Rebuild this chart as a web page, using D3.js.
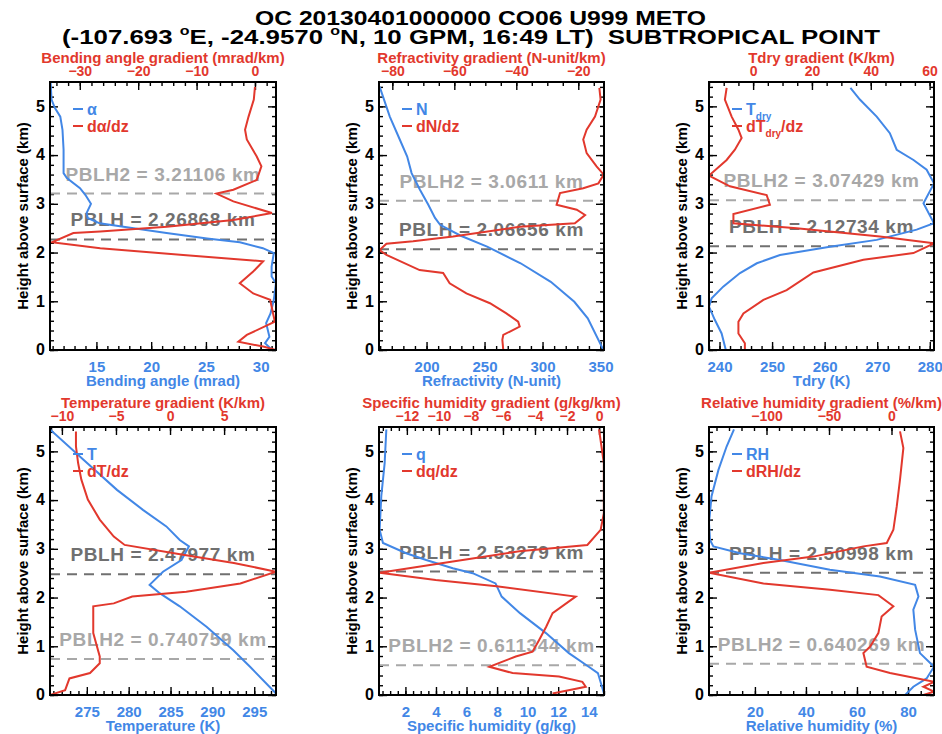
<!DOCTYPE html>
<html>
<head>
<meta charset="utf-8">
<script src="https://cdn.jsdelivr.net/npm/d3@7"></script>
<style>
body { margin: 0; background: #fff; }
text { font-family: "Liberation Sans", Arial, Helvetica, sans-serif; font-weight: bold; }
</style>
</head>
<body>
<div id="chart"></div>
<script>
// every profile is a list of [height above surface (km), value]
var bendAngle = [[5.48,10.82],[5.14,10.9],[4.97,11.2],[4.79,11.7],[4.52,11.9],[4.11,12.0],[3.63,12.0],[3.53,12.3],[3.32,13.5],[3.18,14.0],[3.0,14.5],[2.81,14.1],[2.71,14.2],[2.6,15.3],[2.5,18.4],[2.4,21.4],[2.29,25.1],[2.21,28.1],[2.09,30.2],[1.99,31.2],[1.71,31.0],[1.51,31.0],[1.37,31.4],[1.03,31.2],[0.75,30.9],[0.55,30.5],[0.27,30.8],[0.14,30.4],[0.01,31.0]];
var bendGrad = [[5.4,0.0],[5.14,-0.2],[4.79,-1.1],[4.52,-1.7],[4.32,-1.4],[3.97,0.3],[3.77,1.1],[3.49,0.3],[3.29,-3.7],[3.21,-6.6],[3.05,-3.7],[2.81,2.9],[2.67,-3.7],[2.53,-15.1],[2.43,-26.5],[2.4,-31.1],[2.21,-34.8],[2.09,-26.5],[1.95,-12.3],[1.82,1.4],[1.61,-0.3],[1.37,-2.6],[1.16,-0.3],[1.03,2.6],[0.75,3.1],[0.58,3.4],[0.31,-1.4],[0.17,-2.85],[0.07,1.4],[0.0,3.6]];

var refr = [[5.4,159.6],[4.79,168.3],[4.32,176.9],[3.97,183.3],[3.63,187.1],[3.29,194.3],[2.98,201.5],[2.71,207.3],[2.57,211.7],[2.35,229.0],[2.12,252.2],[1.78,281.1],[1.4,307.1],[0.99,327.4],[0.65,339.0],[0.0,352.5]];
var refrGrad = [[5.38,-13.2],[5.14,-12.8],[4.79,-14.6],[4.52,-17.3],[4.32,-18.4],[4.04,-17.3],[3.77,-14.1],[3.6,-11.8],[3.42,-13.5],[3.32,-18.4],[3.22,-25.9],[2.98,-27.0],[2.88,-20.5],[2.77,-17.8],[2.6,-21.1],[2.53,-38.9],[2.33,-60.4],[2.23,-73.3],[2.18,-81.9],[2.05,-84.1],[1.95,-81.9],[1.64,-71.2],[1.58,-63.6],[1.37,-61.5],[1.16,-56.1],[0.96,-48.5],[0.75,-43.2],[0.58,-39.4],[0.48,-38.9],[0.31,-44.2],[0.21,-44.5],[0.0,-44.2]];

var tdry = [[5.38,264.9],[5.14,266.7],[4.79,269.9],[4.45,272.4],[4.11,273.7],[3.9,276.9],[3.7,279.4],[3.42,280.8],[3.01,278.8],[2.6,280.8],[2.47,277.5],[2.26,269.9],[2.12,261.0],[1.95,251.5],[1.78,247.1],[1.58,243.9],[1.3,240.7],[1.06,238.5],[0.89,238.0],[0.62,239.1],[0.34,240.4],[0.0,241.2]];
var tdryGrad = [[5.38,-9.0],[5.14,-9.6],[4.79,-7.3],[4.52,-5.0],[4.35,-3.9],[4.11,-6.2],[3.9,-9.0],[3.58,-15.0],[3.36,-7.9],[3.18,4.6],[2.98,5.7],[2.79,-6.7],[2.6,-6.7],[2.5,14.8],[2.33,43.1],[2.19,61.5],[1.99,54.5],[1.85,37.5],[1.59,20.5],[1.23,11.4],[1.03,3.5],[0.75,-3.3],[0.58,-5.0],[0.34,-5.0],[0.14,-2.8],[0.0,-2.8]];

var temp = [[5.45,270.6],[4.83,274.6],[4.21,278.6],[3.8,281.7],[3.46,284.5],[3.18,286.1],[3.05,287.2],[2.77,286.3],[2.53,284.1],[2.26,282.5],[2.09,283.7],[1.82,286.1],[1.4,289.3],[0.92,292.5],[0.58,294.5],[0.03,297.6]];
var tempGrad = [[5.41,-8.7],[5.1,-8.7],[4.76,-8.5],[4.42,-8.2],[4.01,-7.6],[3.6,-6.5],[3.25,-5.2],[3.08,-4.2],[2.88,1.2],[2.71,5.9],[2.53,9.8],[2.29,6.5],[2.12,1.5],[2.02,-3.5],[1.88,-5.2],[1.82,-7.1],[1.27,-7.1],[0.79,-6.5],[0.65,-6.5],[0.45,-7.4],[0.34,-9.3],[0.1,-9.7],[0.0,-11.1]];

var shum = [[5.45,0.75],[4.76,0.64],[4.08,0.42],[3.39,0.31],[3.12,0.53],[2.91,2.05],[2.77,3.36],[2.6,5.1],[2.5,6.4],[2.29,7.9],[2.02,8.3],[1.68,9.5],[1.27,11.2],[0.86,12.7],[0.58,14.0],[0.45,14.6],[0.03,15.0]];
var shumGrad = [[5.45,0.0],[4.76,0.3],[3.73,0.3],[3.39,0.1],[3.08,-0.73],[2.95,-4.98],[2.74,-9.13],[2.51,-13.7],[2.36,-10.2],[2.23,-6.4],[2.02,-1.46],[1.68,-2.9],[1.4,-3.3],[1.13,-3.74],[0.89,-4.15],[0.79,-5.2],[0.58,-6.85],[0.45,-5.4],[0.38,-2.5],[0.27,-1.04],[0.17,-0.83],[0.03,-2.9]];

var rhum = [[5.45,11.8],[5.1,8.9],[4.62,5.7],[4.08,3.0],[3.53,2.0],[3.18,2.4],[3.05,3.7],[2.91,14.2],[2.77,29.8],[2.57,49.4],[2.43,69.0],[2.26,82.8],[2.02,84.1],[1.75,82.1],[1.34,82.8],[0.86,84.7],[0.58,90.2],[0.34,87.3],[0.17,82.1],[0.0,78.9]];
var rhumGrad = [[5.41,6.8],[5.07,9.5],[4.42,6.8],[3.87,4.2],[3.39,1.5],[3.12,-3.8],[3.05,-22.5],[2.84,-62.5],[2.71,-102.5],[2.51,-146],[2.29,-102.5],[2.16,-49.2],[2.05,-10.5],[1.82,1.5],[1.61,-7.9],[1.27,-10.5],[0.99,-17.2],[0.86,-22.5],[0.58,-19.9],[0.45,-1.2],[0.27,34],[0.17,25.5],[0.07,34],[0.0,25.5]];

var pblh  = [2.26868, 2.06656, 2.12734, 2.47977, 2.53279, 2.50998];
var pblh2 = [3.21106, 3.0611, 3.07429, 0.740759, 0.611344, 0.640269];

var valueTitles = ["Bending angle (mrad)", "Refractivity (N-unit)", "Tdry (K)", "Temperature (K)", "Specific humidity (g/kg)", "Relative humidity (%)"];
var gradTitles = ["Bending angle gradient (mrad/km)", "Refractivity gradient (N-unit/km)", "Tdry gradient (K/km)", "Temperature gradient (K/km)", "Specific humidity gradient (g/kg/km)", "Relative humidity gradient (%/km)"];
var valueLegend = ["α", "N", "T_{dry}", "T", "q", "RH"];
var gradLegend = ["dα/dz", "dN/dz", "dT_{dry}/dz", "dT/dz", "dq/dz", "dRH/dz"];

var valueDomains = [[10.76, 31.4], [159, 353], [238, 280.8], [270.6, 297.6], [0.27, 15.0], [2, 90.2]];
var gradDomains = [[-35.1, 3.6], [-84.3, -11.7], [-15, 61.5], [-11.1, 9.8], [-13.74, 0.31], [-146, 34]];
var valueTicks = [[15, 20, 25, 30], [200, 250, 300, 350], [240, 250, 260, 270, 280], [275, 280, 285, 290, 295], [2, 4, 6, 8, 10, 12, 14], [20, 40, 60, 80]];
var valueMinor = [1, 10, 2, 1, 0.5, 5];
var gradTicks = [[-30, -20, -10, 0], [-80, -60, -40, -20], [0, 20, 40, 60], [-10, -5, 0, 5], [-12, -10, -8, -6, -4, -2, 0], [-100, -50, 0]];
var gradMinor = [2, 5, 5, 1, 0.5, 10];
var heightTicks = [0, 1, 2, 3, 4, 5];

var valueSeries = [bendAngle, refr, tdry, temp, shum, rhum];
var gradSeries = [bendGrad, refrGrad, tdryGrad, tempGrad, shumGrad, rhumGrad];

var width = 942, height = 734;
var blue = "#4287e6", red = "#e2382d";
var colX = [50, 379, 709], colW = [226, 225, 225];
var rowY = [82, 427], plotH = 268;

var svg = d3.select("#chart").append("svg")
    .attr("width", width)
    .attr("height", height);

// title
svg.append("text")
    .attr("x", 255).attr("y", 25)
    .attr("font-size", 21)
    .attr("textLength", 451).attr("lengthAdjust", "spacingAndGlyphs")
    .style("white-space", "pre")
    .text("OC 20130401000000 CO06 U999 METO");

var t2 = svg.append("text")
    .attr("x", 62).attr("y", 44)
    .attr("font-size", 21)
    .attr("textLength", 818).attr("lengthAdjust", "spacingAndGlyphs")
    .style("white-space", "pre");
t2.append("tspan").text("(-107.693 ");
t2.append("tspan").attr("font-size", 13).attr("dy", -9).text("o");
t2.append("tspan").attr("dy", 9).text("E, -24.9570 ");
t2.append("tspan").attr("font-size", 13).attr("dy", -9).text("o");
t2.append("tspan").attr("dy", 9).text("N, 10 GPM, 16:49 LT)  SUBTROPICAL POINT");

// writes "T_{dry}" style labels as tspans with subscripts
function richText(sel, str) {
    var shift = 0;
    str.split(/(_\{[^}]*\})/).forEach(function(part) {
        if (!part) return;
        if (part[0] === "_") {
            sel.append("tspan").attr("font-size", 10).attr("dy", 5).text(part.slice(2, -1));
            shift = -5;
        } else {
            sel.append("tspan").attr("dy", shift || null).text(part);
            shift = 0;
        }
    });
}

function minorValues(domain, step) {
    var start = Math.ceil(domain[0] / step) * step;
    return d3.range(start, domain[1] + 1e-9, step).map(function(v) { return +v.toFixed(4); });
}

function styleAxis(g) {
    g.select(".domain").remove();
    g.selectAll(".tick line").attr("stroke", "#000").attr("stroke-width", 1.4);
}

valueSeries.forEach(function(series, i) {
    var x0 = colX[i % 3], y0 = rowY[Math.floor(i / 3)], w = colW[i % 3];
    var g = svg.append("g").attr("transform", `translate(${x0},${y0})`);

    var y = d3.scaleLinear().domain([0, 5.5]).range([plotH, 0]);
    var xb = d3.scaleLinear().domain(valueDomains[i]).range([0, w]);
    var xt = d3.scaleLinear().domain(gradDomains[i]).range([0, w]);

    g.append("clipPath").attr("id", "clip" + i)
        .append("rect").attr("width", w).attr("height", plotH);

    // minor ticks
    g.append("g").attr("transform", `translate(0,${plotH})`)
        .call(d3.axisBottom(xb).tickValues(minorValues(valueDomains[i], valueMinor[i])).tickSize(-4).tickFormat(""))
        .call(styleAxis);
    g.append("g")
        .call(d3.axisTop(xt).tickValues(minorValues(gradDomains[i], gradMinor[i])).tickSize(-4).tickFormat(""))
        .call(styleAxis);
    g.append("g")
        .call(d3.axisLeft(y).tickValues(minorValues([0, 5.5], 0.2)).tickSize(-4).tickFormat(""))
        .call(styleAxis);
    g.append("g").attr("transform", `translate(${w},0)`)
        .call(d3.axisRight(y).tickValues(minorValues([0, 5.5], 0.2)).tickSize(-4).tickFormat(""))
        .call(styleAxis);
    g.selectAll(".tick text").filter(function() { return !this.textContent; }).remove();

    // major ticks
    var bottomAx = g.append("g").attr("transform", `translate(0,${plotH})`)
        .call(d3.axisBottom(xb).tickValues(valueTicks[i]).tickSize(-8).tickFormat(d3.format("d")))
        .call(styleAxis);
    bottomAx.selectAll("text").attr("y", 22).attr("dy", null)
        .attr("font-size", 15).attr("fill", blue);

    var topAx = g.append("g")
        .call(d3.axisTop(xt).tickValues(gradTicks[i]).tickSize(-8).tickFormat(d3.format("d")))
        .call(styleAxis);
    topAx.selectAll("text").attr("y", -6).attr("dy", null)
        .attr("font-size", 14).attr("fill", red);

    var leftAx = g.append("g")
        .call(d3.axisLeft(y).tickValues(heightTicks).tickSize(-8).tickFormat(d3.format("d")))
        .call(styleAxis);
    leftAx.selectAll("text").attr("x", -5).attr("dy", "0.3em")
        .attr("font-size", 16).attr("fill", "#000");

    var rightAx = g.append("g").attr("transform", `translate(${w},0)`)
        .call(d3.axisRight(y).tickValues(heightTicks).tickSize(-8).tickFormat(""))
        .call(styleAxis);
    rightAx.selectAll("text").remove();

    // axis titles
    g.append("text")
        .attr("x", w / 2).attr("y", -19)
        .attr("text-anchor", "middle").attr("font-size", 15).attr("fill", red)
        .text(gradTitles[i]);
    g.append("text")
        .attr("x", w / 2).attr("y", plotH + 36)
        .attr("text-anchor", "middle").attr("font-size", 15).attr("fill", blue)
        .text(valueTitles[i]);
    g.append("text")
        .attr("transform", `translate(-28,${plotH / 2}) rotate(-90)`)
        .attr("text-anchor", "middle").attr("dominant-baseline", "central")
        .attr("font-size", 15).attr("fill", "#000")
        .text("Height above surface (km)");

    // PBLH markers
    [[pblh[i], "PBLH", "#707070"], [pblh2[i], "PBLH2", "#a8a8a8"]].forEach(function(m) {
        g.append("line")
            .attr("x1", 0).attr("x2", w)
            .attr("y1", y(m[0])).attr("y2", y(m[0]))
            .attr("stroke", m[2]).attr("stroke-width", 2)
            .attr("stroke-dasharray", "10,7");
        g.append("text")
            .attr("x", w / 2).attr("y", y(m[0]) - 13)
            .attr("text-anchor", "middle").attr("font-size", 19).attr("fill", m[2])
            .attr("letter-spacing", 0.6)
            .text(m[1] + " = " + m[0] + " km");
    });

    // profiles
    var curves = g.append("g").attr("clip-path", `url(#clip${i})`);
    curves.append("path")
        .datum(series)
        .attr("fill", "none").attr("stroke", blue).attr("stroke-width", 2)
        .attr("d", d3.line().x(d => xb(d[1])).y(d => y(d[0])));
    curves.append("path")
        .datum(gradSeries[i])
        .attr("fill", "none").attr("stroke", red).attr("stroke-width", 2)
        .attr("d", d3.line().x(d => xt(d[1])).y(d => y(d[0])));

    // legend
    [[valueLegend[i], blue, 27], [gradLegend[i], red, 44]].forEach(function(l) {
        g.append("line")
            .attr("x1", 23).attr("x2", 33)
            .attr("y1", l[2]).attr("y2", l[2])
            .attr("stroke", l[1]).attr("stroke-width", 2);
        var lt = g.append("text")
            .attr("x", 37).attr("y", l[2] + 5.5)
            .attr("font-size", 16).attr("fill", l[1]);
        richText(lt, l[0]);
    });

    // frame
    g.append("rect")
        .attr("width", w).attr("height", plotH)
        .attr("fill", "none").attr("stroke", "#000").attr("stroke-width", 2);
});
</script>
</body>
</html>
